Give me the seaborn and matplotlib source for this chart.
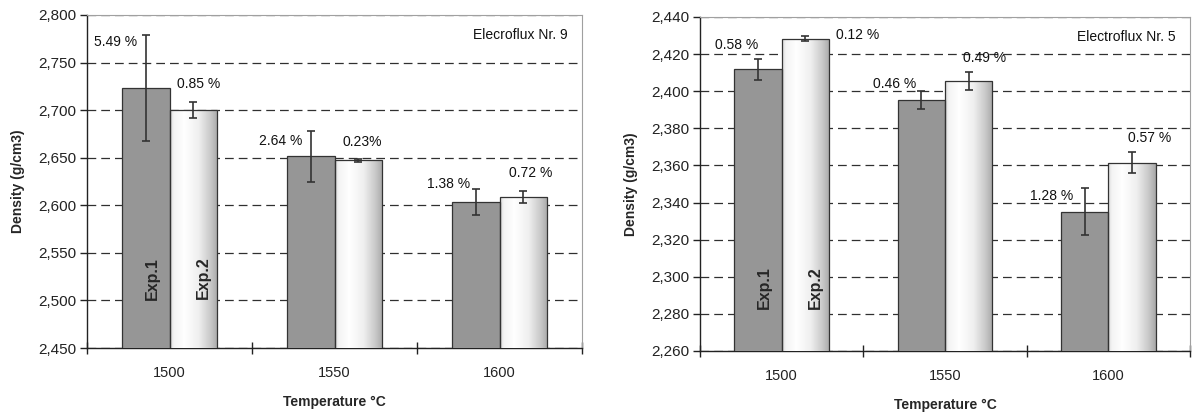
import numpy as np
import pandas as pd
import matplotlib
matplotlib.use("Agg")
import matplotlib.pyplot as plt
import seaborn as sns
from matplotlib.ticker import FixedLocator, FuncFormatter
from matplotlib.colors import LinearSegmentedColormap
import matplotlib.transforms as mtransforms

# ---------------- data ----------------
temperatures = ["1500", "1550", "1600"]
experiments = ["Exp.1", "Exp.2"]

nr9_exp1 = [2.7236, 2.6514, 2.6030]
nr9_exp2 = [2.7001, 2.6475, 2.6090]
nr9_err1 = [0.0557, 0.0265, 0.0137]
nr9_err2 = [0.0086, 0.0015, 0.0065]
nr9_lab1 = ["5.49 %", "2.64 %", "1.38 %"]
nr9_lab2 = ["0.85 %", "0.23%", "0.72 %"]

nr5_exp1 = [2.4118, 2.3951, 2.3351]
nr5_exp2 = [2.4283, 2.4055, 2.3615]
nr5_err1 = [0.0058, 0.0049, 0.0128]
nr5_err2 = [0.0014, 0.0050, 0.0056]
nr5_lab1 = ["0.58 %", "0.46 %", "1.28 %"]
nr5_lab2 = ["0.12 %", "0.49 %", "0.57 %"]

nr9_ticks = [2.45, 2.50, 2.55, 2.60, 2.65, 2.70, 2.75, 2.80]
nr5_ticks = [2.26, 2.28, 2.30, 2.32, 2.34, 2.36, 2.38, 2.40, 2.42, 2.44]

titles = ["Elecroflux Nr. 9", "Electroflux Nr. 5"]
xlabel = "Temperature °C"
ylabel = "Density (g/cm3)"

# ---------------- style / layout (not data) ----------------
# label offsets in pixels relative to (bar centre, top of error bar)
nr9_off1 = [(-30, -7), (-30, -10), (-27, 5)]
nr9_off2 = [(5, 18), (4, 17), (7, 18)]
nr5_off1 = [(-21, 14), (-27, 7), (-33, -8)]
nr5_off2 = [(52, 1), (16, 14), (18, 14)]

sns.set_theme(style="white")
plt.rcParams["font.family"] = ["Liberation Sans", "DejaVu Sans"]

fig = plt.figure(figsize=(11.92, 4.16), dpi=100)
ax1 = fig.add_axes([87 / 1192, (416 - 348) / 416, 495 / 1192, 333 / 416])
ax2 = fig.add_axes([700 / 1192, (416 - 351) / 416, 490 / 1192, 334 / 416])

grad_cmap = LinearSegmentedColormap.from_list(
    "g", [(0.0, "#d8d8d8"), (0.08, "#f4f4f4"), (0.3, "#ffffff"),
          (0.6, "#efefef"), (0.85, "#c8c8c8"), (1.0, "#a8a8a8")])


def draw(ax, e1, e2, r1, r2, l1, l2, o1, o2, ticks, title, exp_y):
    df = pd.DataFrame({
        "Temperature": temperatures * 2,
        "Experiment": [experiments[0]] * 3 + [experiments[1]] * 3,
        "Density": list(e1) + list(e2),
    })
    sns.barplot(data=df, x="Temperature", y="Density", hue="Experiment",
                palette=["#969696", "#ffffff"], width=0.58, errorbar=None,
                edgecolor="#333333", linewidth=0.9, legend=False, ax=ax,
                zorder=3)
    ylo, yhi = ticks[0], ticks[-1]

    c1, c2 = ax.containers[0], ax.containers[1]
    # gradient fill for Exp.2 bars
    grad = np.linspace(0, 1, 256).reshape(1, -1)
    for p in c2.patches:
        x0, w = p.get_x(), p.get_width()
        h = p.get_height()
        im = ax.imshow(grad, cmap=grad_cmap, aspect="auto",
                       extent=[x0, x0 + w, ylo, h], zorder=2.9,
                       interpolation="bilinear")
        im.set_clip_path(p)
        p.set_facecolor("none")
    ax.set_ylim(ylo, yhi)
    ax.set_xlim(-0.5, 2.5)

    for cont, vals, errs, labs, offs in ((c1, e1, r1, l1, o1), (c2, e2, r2, l2, o2)):
        xs = [p.get_x() + p.get_width() / 2 for p in cont.patches]
        ax.errorbar(xs, vals, yerr=errs, fmt="none", ecolor="#333333",
                    elinewidth=1.2, capsize=3, capthick=1.2, zorder=4)
        for x, v, e, lab, off in zip(xs, vals, errs, labs, offs):
            ax.annotate(lab, (x, v + e), xytext=off, textcoords="offset pixels",
                        ha="center", va="center", fontsize=10, color="#111111",
                        zorder=5)

    # Exp labels inside first group
    tr = mtransforms.blended_transform_factory(ax.transData, ax.transAxes)
    for cont, name, dx in ((c1, experiments[0], 0.04), (c2, experiments[1], 0.06)):
        p = cont.patches[0]
        ax.text(p.get_x() + p.get_width() / 2 + dx, exp_y, name, rotation=90,
                ha="center", va="center", fontsize=11.5, fontweight="bold",
                transform=tr, zorder=5)

    ax.yaxis.set_major_locator(FixedLocator(ticks))
    ax.yaxis.set_major_formatter(FuncFormatter(lambda v, pos: f"{v:.3f}".replace(".", ",")))
    ax.set_axisbelow(True)
    ax.yaxis.grid(True, linestyle=(0, (7, 4)), color="#303030", linewidth=0.9)
    ax.xaxis.grid(False)

    ax.xaxis.set_minor_locator(FixedLocator([-0.5, 0.5, 1.5, 2.5]))
    ax.tick_params(axis="x", which="major", length=0, pad=13, labelsize=10.5,
                   colors="#222222", bottom=True)
    ax.tick_params(axis="x", which="minor", length=9, width=1, direction="inout",
                   color="#222222", bottom=True)
    ax.tick_params(axis="y", which="major", length=5, width=1, direction="out",
                   left=True, labelsize=11, colors="#222222", pad=3)

    for s in ("left", "bottom"):
        ax.spines[s].set_color("#222222")
        ax.spines[s].set_linewidth(1.0)
    for s in ("top", "right"):
        ax.spines[s].set_color("#a0a0a0")
        ax.spines[s].set_linewidth(0.8)

    ax.set_xlabel(xlabel, fontsize=10, fontweight="bold", labelpad=11)
    ax.set_ylabel(ylabel, fontsize=10, fontweight="bold", labelpad=9)
    ax.text(0.97, 0.94, title, transform=ax.transAxes, ha="right", va="center",
            fontsize=10, color="#111111")


draw(ax1, nr9_exp1, nr9_exp2, nr9_err1, nr9_err2, nr9_lab1, nr9_lab2,
     nr9_off1, nr9_off2, nr9_ticks, titles[0], 0.21)
draw(ax2, nr5_exp1, nr5_exp2, nr5_err1, nr5_err2, nr5_lab1, nr5_lab2,
     nr5_off1, nr5_off2, nr5_ticks, titles[1], 0.19)

fig.savefig("out.png", dpi=100)
